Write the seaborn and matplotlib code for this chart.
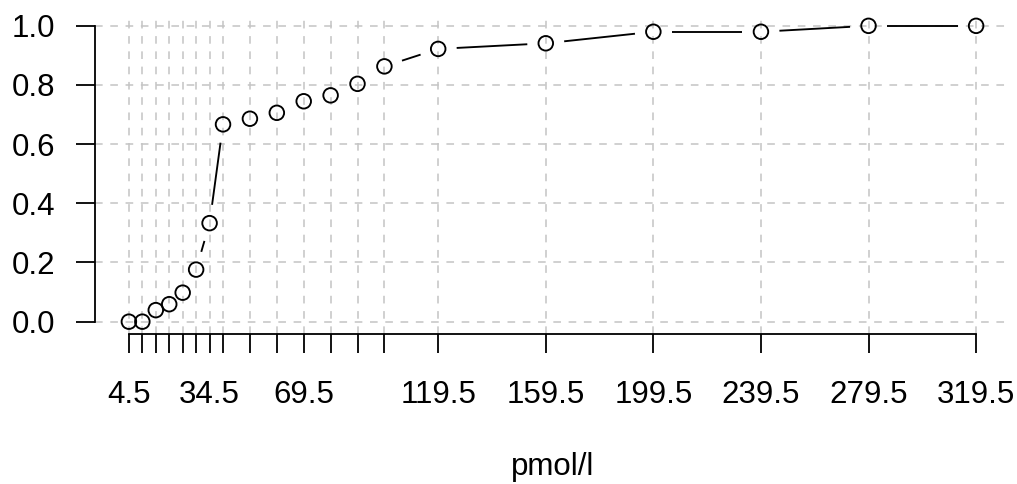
import numpy as np
import pandas as pd
import matplotlib
matplotlib.use("Agg")
import matplotlib.pyplot as plt
import seaborn as sns

# ---- data ----
x_vals = [4.5, 9.5, 14.5, 19.5, 24.5, 29.5, 34.5, 39.5, 49.5, 59.5,
          69.5, 79.5, 89.5, 99.5, 119.5, 159.5, 199.5, 239.5, 279.5, 319.5]
y_vals = [0.0, 0.0, 0.039, 0.059, 0.098, 0.176, 0.333, 0.667, 0.686, 0.706,
          0.745, 0.765, 0.804, 0.863, 0.922, 0.941, 0.980, 0.980, 1.0, 1.0]
x_labels = ["4.5", "", "", "", "", "", "34.5", "", "", "",
            "69.5", "", "", "", "119.5", "159.5", "199.5", "239.5", "279.5", "319.5"]
y_ticks = [0.0, 0.2, 0.4, 0.6, 0.8, 1.0]
y_labels = ["0.0", "0.2", "0.4", "0.6", "0.8", "1.0"]
x_title = "pmol/l"

df = pd.DataFrame({"x": x_vals, "y": y_vals})

sns.set_style("white")
plt.rcParams["font.family"] = ["Liberation Sans", "DejaVu Sans"]
FS = 22.5
plt.rcParams["font.size"] = FS
plt.rcParams["text.color"] = "black"
plt.rcParams["axes.labelcolor"] = "black"

fig = plt.figure(figsize=(10.17, 4.84), dpi=100)
W, H = 1017, 484
ax = fig.add_axes([95 / W, (H - 333.5) / H, (1010 - 95) / W, (333.5 - 14) / H])

xmin, xmax = min(x_vals), max(x_vals)
xr = xmax - xmin
ax.set_xlim(xmin - 0.04 * xr, xmax + 0.04 * xr)
ax.set_ylim(-0.04, 1.04)

# grid (R-style dashed light gray)
grid_kw = dict(color="#c4c4c4", lw=1.1, dashes=(5.0, 5.0), zorder=0)
for xv in x_vals:
    ax.axvline(xv, **grid_kw)
for yv in y_ticks:
    ax.axhline(yv, **grid_kw)

# points
sns.scatterplot(data=df, x="x", y="y", ax=ax, marker="o", s=110,
                facecolors="none", edgecolor="black", linewidth=1.35, zorder=3)

# R type="b" connecting segments with gaps around points
fig.canvas.draw()
pts = ax.transData.transform(np.column_stack([x_vals, y_vals]))
inv = ax.transData.inverted()
gap = 18.5
for p0, p1 in zip(pts[:-1], pts[1:]):
    d = p1 - p0
    dist = np.hypot(*d)
    if dist > 2 * gap:
        u = d / dist
        a = inv.transform(p0 + gap * u)
        b = inv.transform(p1 - gap * u)
        ax.plot([a[0], b[0]], [a[1], b[1]], color="black", lw=1.35,
                solid_capstyle="butt", zorder=2)

# axes styling
ax.set_xticks(x_vals)
ax.set_xticklabels(x_labels)
ax.set_yticks(y_ticks)
ax.set_yticklabels(y_labels)
for s in ["top", "right"]:
    ax.spines[s].set_visible(False)
ax.spines["left"].set_bounds(0, 1)
ax.spines["bottom"].set_bounds(xmin, xmax)
for s in ["left", "bottom"]:
    ax.spines[s].set_linewidth(1.3)
    ax.spines[s].set_color("black")
ax.tick_params(axis="both", which="major", bottom=True, left=True,
               direction="out", length=14, width=1.3,
               color="black", labelsize=FS, labelcolor="black")
ax.tick_params(axis="x", pad=19.5)
ax.tick_params(axis="y", pad=14.5)
ax.set_ylabel("")
ax.set_xlabel(x_title, fontsize=FS, va="baseline", color="black")
ax.xaxis.set_label_coords(0.5, -(475 - 333.5) / (333.5 - 14))

fig.savefig("out.png", dpi=100)
